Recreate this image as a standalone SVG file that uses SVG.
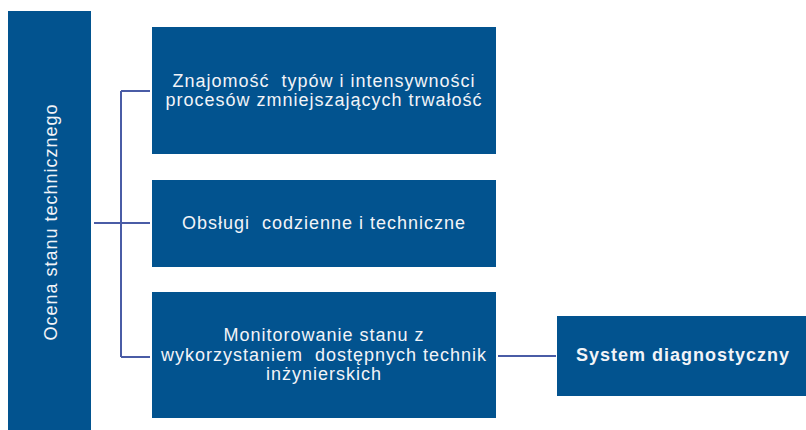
<svg xmlns="http://www.w3.org/2000/svg" width="806" height="430" viewBox="0 0 806 430">
<style>
.box{fill:#02538f;}
.t{font-family:"Liberation Sans",Arial,sans-serif;font-size:18px;fill:#f2f4f8;text-anchor:middle;letter-spacing:1px;white-space:pre;}
.b{font-weight:bold;}
.c{fill:none;stroke:#4a5ca6;stroke-width:2;}
</style>
<rect width="806" height="430" fill="#ffffff"/>
<g id="connectors">
<path class="c" d="M94 223 H150 M121 91 V357 M121 91 H150 M121 357 H150 M498 356 H556"/>
</g>
<g id="node-ocena">
<rect class="box" x="8" y="11" width="83" height="419"/>
<text class="t" transform="translate(56.5 222) rotate(-90)" x="0" y="0">Ocena stanu technicznego</text>
</g>
<g id="node-znajomosc">
<rect class="box" x="152" y="27" width="344" height="127"/>
<text class="t" x="324" y="87" xml:space="preserve">Znajomość  typów i intensywności</text>
<text class="t" x="324" y="106">procesów zmniejszających trwałość</text>
</g>
<g id="node-obslugi">
<rect class="box" x="152" y="180" width="344" height="87"/>
<text class="t" x="324" y="229" xml:space="preserve">Obsługi  codzienne i techniczne</text>
</g>
<g id="node-monitorowanie">
<rect class="box" x="152" y="292" width="344" height="126"/>
<text class="t" x="324" y="341">Monitorowanie stanu z</text>
<text class="t" x="324" y="361" xml:space="preserve">wykorzystaniem  dostępnych technik</text>
<text class="t" x="324" y="380">inżynierskich</text>
</g>
<g id="node-system">
<rect class="box" x="557" y="316" width="249" height="80"/>
<text class="t b" x="683" y="361">System diagnostyczny</text>
</g>
</svg>
